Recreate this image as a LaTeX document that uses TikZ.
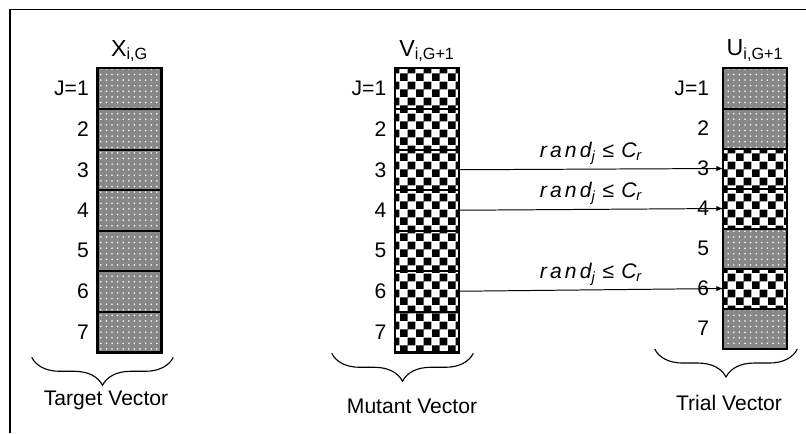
\documentclass[tikz,border=0pt]{standalone}
\usepackage{fontspec}
\setmainfont{Liberation Sans}
\newfontfamily\randfont[LetterSpace=15]{Liberation Sans}
\usetikzlibrary{positioning,calc,patterns,decorations.pathreplacing}

\pgfdeclarepatternformonly{checker}{\pgfpointorigin}{\pgfpoint{0.4cm}{0.4cm}}{\pgfpoint{0.4cm}{0.4cm}}{%
  \pgfpathrectangle{\pgfpointorigin}{\pgfpoint{0.2cm}{0.2cm}}%
  \pgfpathrectangle{\pgfpoint{0.2cm}{0.2cm}}{\pgfpoint{0.2cm}{0.2cm}}%
  \pgfusepath{fill}}
\pgfdeclarepatternformonly{whitedots}{\pgfpoint{-0.05cm}{-0.05cm}}{\pgfpoint{0.05cm}{0.05cm}}{\pgfpoint{0.14cm}{0.14cm}}{%
  \pgfpathcircle{\pgfpointorigin}{0.022cm}%
  \pgfusepath{fill}}

\tikzset{>=latex}
\colorlet{mygray}{black!47}
\tikzset{
  every node/.style={font=\fontsize{15}{18}\selectfont},
  cell/.style={minimum width=1.575cm,minimum height=1.0125cm,inner sep=0pt},
  dotcell/.style={cell,preaction={fill=mygray},pattern=whitedots,pattern color=white},
  checkcell/.style={cell,preaction={fill=white},pattern=checker,pattern color=black},
  sep/.style={line width=1.4pt},
  frame/.style={line width=1.8pt},
  header/.style={font=\fontsize{16.5}{19}\selectfont},
  brace/.style={decorate,decoration={brace,mirror,amplitude=0.7cm},line width=0.8pt},
  crossarrow/.style={->,line width=0.7pt},
  randlbl/.style={font=\fontsize{15}{18}\selectfont\randfont\itshape,inner sep=3pt},
}
\newcommand{\randtext}{rand\textsubscript{j}\,\,{\upshape ≤}\,\,C\textsubscript{r}}

\begin{document}
\begin{tikzpicture}[x=0.025cm,y=0.025cm]
  \useasboundingbox (0,0) rectangle (806,-433);
  \draw[line width=1.4pt] (10,-433) -- (10,-9.5) -- (806,-9.5);

  % target vector
  \foreach \j in {1,...,7}
    \node[dotcell] (x\j) at (129.5,{-68.5-40.5*(\j-0.5)}) {};
  \foreach \j in {1,...,6}
    \draw[sep] (x\j.south west) -- (x\j.south east);
  \draw[frame] (x1.north west) rectangle (x7.south east);
  \node[left=0.1cm of x1] (xl1) {J=1};
  \foreach \j in {2,...,7}
    \node[left=0.1cm of x\j] (xl\j) {\j};
  \node[header,above=1pt of x1] (xh) {X\textsubscript{i,G}};
  \draw[brace] ($(x7.south west)+(-66,-5)$) coordinate (xb1) -- ($(x7.south east)+(12,-5)$) coordinate (xb2);
  \node (xc) at ($(xb1)!0.5!(xb2)+(3.5,-43)$) {Target Vector};

  % mutant vector
  \foreach \j in {1,...,7}
    \node[checkcell] (v\j) at (427,{-68.5-40.5*(\j-0.5)}) {};
  \foreach \j in {1,...,6}
    \draw[sep] (v\j.south west) -- (v\j.south east);
  \draw[frame] (v1.north west) rectangle (v7.south east);
  \node[left=0.1cm of v1] (vl1) {J=1};
  \foreach \j in {2,...,7}
    \node[left=0.1cm of v\j] (vl\j) {\j};
  \node[header,above=1pt of v1] (vh) {V\textsubscript{i,G+1}};
  \draw[brace] ($(v7.south west)+(-63.5,-1)$) coordinate (vb1) -- ($(v7.south east)+(14.5,-1)$) coordinate (vb2);
  \node (vc) at ($(vb1)!0.5!(vb2)+(9.5,-53)$) {Mutant Vector};

  % trial vector
  \foreach \j/\s in {1/dotcell,2/dotcell,3/checkcell,4/checkcell,5/dotcell,6/checkcell,7/dotcell}
    \node[\s] (u\j) at (755,{-68.5-40*(\j-0.5)}) {};
  \foreach \j in {1,...,6}
    \draw[sep] (u\j.south west) -- (u\j.south east);
  \draw[frame] (u1.north west) rectangle (u7.south east);
  \node[left=0.23cm of u1] (ul1) {J=1};
  \foreach \j in {2,...,7}
    \node[left=0.23cm of u\j] (ul\j) {\j};
  \node[header,above=1pt of u1] (uh) {U\textsubscript{i,G+1}};
  \draw[brace] ($(u7.south west)+(-68.5,0)$) coordinate (ub1) -- ($(u7.south east)+(10.5,0)$) coordinate (ub2);
  \node (uc) at ($(ub1)!0.5!(ub2)+(3,-54)$) {Trial Vector};

  % crossover
  \foreach \j in {3,4,6}
    \draw[crossarrow] (v\j.east) -- node[above,randlbl] {\randtext} (u\j.west);
\end{tikzpicture}
\end{document}
